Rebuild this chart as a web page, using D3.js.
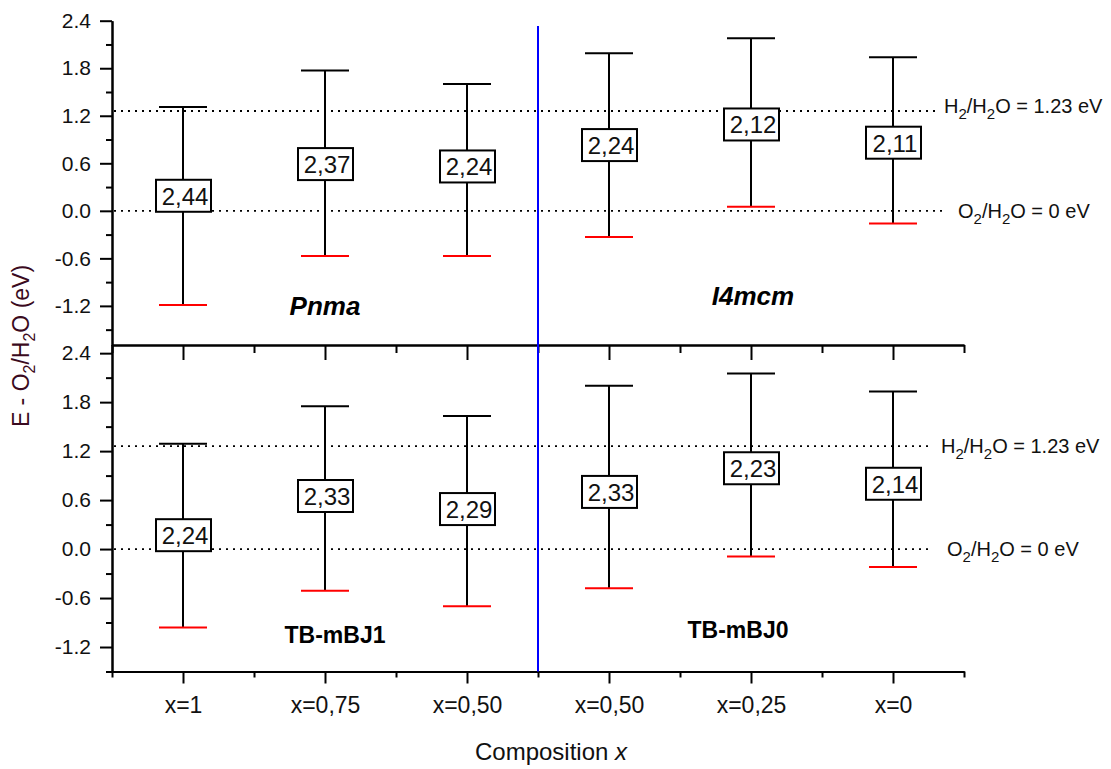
<!DOCTYPE html>
<html>
<head>
<meta charset="utf-8">
<script src="https://cdn.jsdelivr.net/npm/d3@7"></script>
<style>
  body { margin: 0; background: #fff; }
  svg { font-family: "Liberation Sans", Arial, sans-serif; }
  .axis path, .axis line { stroke: #000; stroke-width: 2; }
  .axis text { fill: #111; }
</style>
</head>
<body>
<div id="chart"></div>
<script>
// categories along x
var categories = ["x=1", "x=0,75", "x=0,50", "x=0,50", "x=0,25", "x=0"];

// top panel (Pnma | I4mcm) : upper cap, lower cap, box centre, gap label
var topUpper = [1.31, 1.77, 1.60, 1.99, 2.18, 1.94];
var topLower = [-1.19, -0.57, -0.57, -0.33, 0.05, -0.16];
var topMid = [0.19, 0.59, 0.56, 0.83, 1.09, 0.86];
var topGap = ["2,44", "2,37", "2,24", "2,24", "2,12", "2,11"];

// bottom panel (TB-mBJ1 | TB-mBJ0)
var botUpper = [1.29, 1.75, 1.63, 2.00, 2.15, 1.93];
var botLower = [-0.96, -0.51, -0.70, -0.48, -0.09, -0.22];
var botMid = [0.17, 0.65, 0.49, 0.70, 0.99, 0.80];
var botGap = ["2,24", "2,33", "2,29", "2,33", "2,23", "2,14"];

// y ticks
var majorY = [-1.2, -0.6, 0.0, 0.6, 1.2, 1.8, 2.4];
var minorY = [-1.5, -0.9, -0.3, 0.3, 0.9, 1.5, 2.1];

// redox levels
var levelH = 1.26, levelO = 0;

var width = 1111, height = 769;

var svg = d3.select('#chart').append('svg')
    .attr('width', width)
    .attr('height', height);

var x = d3.scaleLinear().domain([0.5, 6.5]).range([112, 964]);
var yTop = d3.scaleLinear().domain([-1.7, 2.4]).range([345.5, 20.7]);
var yBot = d3.scaleLinear().domain([-1.5, 2.5]).range([671.5, 345]);

var fmt = function (d) { return d.toFixed(1); };

function yAxes(y) {
    svg.append('g').attr('class', 'axis')
        .attr('transform', 'translate(112,0)')
        .call(d3.axisLeft(y).tickValues(minorY).tickSize(6).tickSizeOuter(0).tickFormat(''));
    var g = svg.append('g').attr('class', 'axis')
        .attr('transform', 'translate(112,0)')
        .call(d3.axisLeft(y).tickValues(majorY).tickSize(12).tickSizeOuter(0).tickPadding(9).tickFormat(fmt));
    g.selectAll('text').style('font-size', '21px');
}
yAxes(yTop);
yAxes(yBot);

// boundary between panels (ticks pointing down)
svg.append('g').attr('class', 'axis')
    .attr('transform', 'translate(0,345)')
    .call(d3.axisBottom(x).tickValues([0.5, 1.5, 2.5, 3.5, 4.5, 5.5, 6.5]).tickSize(8).tickSizeOuter(0).tickFormat(''));
svg.append('g').attr('class', 'axis')
    .attr('transform', 'translate(0,345)')
    .call(d3.axisBottom(x).tickValues([1, 2, 3, 4, 5, 6]).tickSize(15).tickSizeOuter(0).tickFormat(''));

// bottom axis
svg.append('g').attr('class', 'axis')
    .attr('transform', 'translate(0,671.5)')
    .call(d3.axisBottom(x).tickValues([0.5, 1.5, 2.5, 3.5, 4.5, 5.5, 6.5]).tickSize(6).tickSizeOuter(0).tickFormat(''));
var xb = svg.append('g').attr('class', 'axis')
    .attr('transform', 'translate(0,671.5)')
    .call(d3.axisBottom(x).tickValues([1, 2, 3, 4, 5, 6]).tickSize(12).tickSizeOuter(0).tickPadding(13)
        .tickFormat(function (d) { return categories[d - 1]; }));
xb.selectAll('text').style('font-size', '23px');

// dotted redox lines + labels
function levels(y, hEnd, oEnd, hX, oX, hDy, oDy) {
    svg.append('line')
        .attr('x1', 114).attr('x2', hEnd)
        .attr('y1', y(levelH)).attr('y2', y(levelH))
        .attr('stroke', '#000').attr('stroke-width', 1.8)
        .attr('stroke-dasharray', '2,5');
    svg.append('line')
        .attr('x1', 114).attr('x2', oEnd)
        .attr('y1', y(levelO)).attr('y2', y(levelO))
        .attr('stroke', '#000').attr('stroke-width', 1.8)
        .attr('stroke-dasharray', '2,5');
    var t1 = svg.append('text').attr('x', hX).attr('y', y(levelH) + hDy).style('font-size', '20px').attr('fill', '#111');
    t1.append('tspan').text('H');
    t1.append('tspan').attr('dy', 6).style('font-size', '15px').text('2');
    t1.append('tspan').attr('dy', -6).text('/H');
    t1.append('tspan').attr('dy', 6).style('font-size', '15px').text('2');
    t1.append('tspan').attr('dy', -6).text('O = 1.23 eV');
    var t2 = svg.append('text').attr('x', oX).attr('y', y(levelO) + oDy).style('font-size', '20px').attr('fill', '#111');
    t2.append('tspan').text('O');
    t2.append('tspan').attr('dy', 6).style('font-size', '15px').text('2');
    t2.append('tspan').attr('dy', -6).text('/H');
    t2.append('tspan').attr('dy', 6).style('font-size', '15px').text('2');
    t2.append('tspan').attr('dy', -6).text('O = 0 eV');
}
levels(yTop, 936, 946, 944, 958, 2, 7);
levels(yBot, 932, 930, 941, 947, 7, 7);

// blue separator
svg.append('line')
    .attr('x1', x(3.5)).attr('x2', x(3.5))
    .attr('y1', 26).attr('y2', 671.5)
    .attr('stroke', '#0000ff').attr('stroke-width', 2);

// error bars with gap boxes
function bars(y, upper, lower, mid, gap) {
    var idx = d3.range(categories.length);
    var g = svg.append('g');
    g.selectAll('.stem').data(idx).enter().append('line')
        .attr('x1', function (i) { return x(i + 1); })
        .attr('x2', function (i) { return x(i + 1); })
        .attr('y1', function (i) { return y(upper[i]); })
        .attr('y2', function (i) { return y(lower[i]); })
        .attr('stroke', '#000').attr('stroke-width', 2);
    g.selectAll('.cap').data(idx).enter().append('line')
        .attr('x1', function (i) { return x(i + 1) - 24; })
        .attr('x2', function (i) { return x(i + 1) + 24; })
        .attr('y1', function (i) { return y(upper[i]); })
        .attr('y2', function (i) { return y(upper[i]); })
        .attr('stroke', '#000').attr('stroke-width', 2);
    g.selectAll('.low').data(idx).enter().append('line')
        .attr('x1', function (i) { return x(i + 1) - 24; })
        .attr('x2', function (i) { return x(i + 1) + 24; })
        .attr('y1', function (i) { return y(lower[i]); })
        .attr('y2', function (i) { return y(lower[i]); })
        .attr('stroke', '#ff0000').attr('stroke-width', 2);
    g.selectAll('rect').data(idx).enter().append('rect')
        .attr('x', function (i) { return x(i + 1) - 27; })
        .attr('y', function (i) { return y(mid[i]) - 16; })
        .attr('width', 55).attr('height', 32)
        .attr('fill', '#fff').attr('stroke', '#000').attr('stroke-width', 2);
    g.selectAll('.gap').data(idx).enter().append('text')
        .attr('x', function (i) { return x(i + 1) + 2; })
        .attr('y', function (i) { return y(mid[i]) + 9; })
        .attr('text-anchor', 'middle')
        .style('font-size', '24px')
        .attr('fill', '#111')
        .text(function (i) { return gap[i]; });
}
bars(yTop, topUpper, topLower, topMid, topGap);
bars(yBot, botUpper, botLower, botMid, botGap);

// panel labels
function label(txt, cx, cy, size, italic) {
    svg.append('text')
        .attr('x', cx).attr('y', cy)
        .attr('text-anchor', 'middle')
        .style('font-size', size + 'px')
        .style('font-weight', 'bold')
        .style('font-style', italic ? 'italic' : 'normal')
        .attr('fill', '#000')
        .text(txt);
}
label('Pnma', 325, 315, 26, true);
label('I4mcm', 753, 305, 26, true);
label('TB-mBJ1', 335, 643, 23, false);
label('TB-mBJ0', 738, 638, 23, false);

// axis titles
var xt = svg.append('text')
    .attr('x', 551).attr('y', 760)
    .attr('text-anchor', 'middle')
    .style('font-size', '24px')
    .attr('fill', '#111');
xt.append('tspan').text('Composition ');
xt.append('tspan').style('font-style', 'italic').text('x');

var yt = svg.append('text')
    .attr('transform', 'translate(29,346) rotate(-90)')
    .attr('text-anchor', 'middle')
    .style('font-size', '23px')
    .attr('fill', '#3a0a20');
yt.append('tspan').text('E - O');
yt.append('tspan').attr('dy', 6).style('font-size', '16px').text('2');
yt.append('tspan').attr('dy', -6).text('/H');
yt.append('tspan').attr('dy', 6).style('font-size', '16px').text('2');
yt.append('tspan').attr('dy', -6).text('O (eV)');
</script>
</body>
</html>
